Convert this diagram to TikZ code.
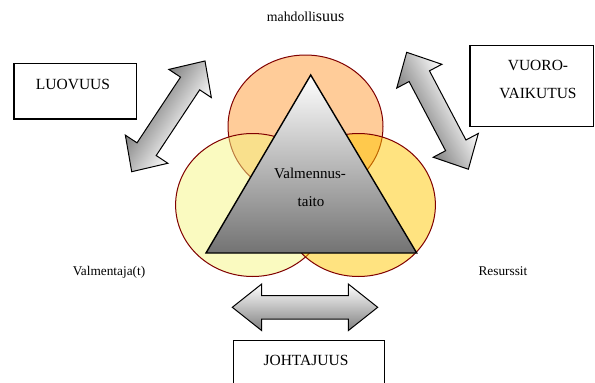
\documentclass[tikz,border=0pt]{standalone}
\usepackage{fontspec}
\setmainfont{Liberation Serif}
\definecolor{ringc}{HTML}{800000}
\definecolor{topc}{HTML}{FFCC99}
\definecolor{leftc}{HTML}{F5F581}
\definecolor{rightc}{HTML}{FFC701}
\newcommand\bigdbl[5]{\path[#1] (0,0) -- (#3,#4) -- (#3,#5) -- ({#2-#3},#5) -- ({#2-#3},#4) -- (#2,0) -- ({#2-#3},-#4) -- ({#2-#3},-#5) -- (#3,-#5) -- (#3,-#4) -- cycle;}
\tikzset{
  boxframe/.style={draw=black, line width=1.4pt, inner sep=0pt},
  lbl/.style={font=\fontsize{13.3}{16}\selectfont, anchor=base, inner sep=0pt},
  boxtxt/.style={font=\fontsize{15.5}{18}\selectfont, anchor=base, inner sep=0pt},
  ring/.style={draw=ringc, line width=1pt},
  bigarrow/.style={draw=black, line width=1pt, line join=miter},
}
\begin{document}
\begin{tikzpicture}[x=1pt,y=-1pt]
\useasboundingbox (0,0) rectangle (595,383);
% circles
\draw[ring, fill=topc] (305.5,126.5) ellipse [x radius=77.5pt, y radius=71.5pt];
\draw[ring, fill=leftc, fill opacity=0.5] (252.6,205) ellipse [x radius=77pt, y radius=71.5pt];
\draw[ring, fill=rightc, fill opacity=0.5] (358.4,205) ellipse [x radius=77pt, y radius=71.5pt];
% triangle
\coordinate (apex) at (310.7,75);
\coordinate (bl) at (206,253);
\coordinate (br) at (416.7,253);
\path[draw=black, line width=1.4pt, line join=miter, top color=white, bottom color=black!55] (apex) -- (br) -- (bl) -- cycle;
\node[boxtxt, font=\fontsize{15}{18}\selectfont] (val1) at (310,178.3) {Valmennus-};
\node[boxtxt, font=\fontsize{15}{18}\selectfont] (val2) at (311,206.7) {taito};
% labels
\node[lbl, anchor=base west] (mah) at (266.7,21) {\fontsize{13.8}{16}\selectfont mahdolli\fontsize{16}{18}\selectfont suus};
\node[lbl] (vmj) at (109,275) {Valmentaja(t)};
\node[lbl] (res) at (503,275) {Resurssit};
% arrows
\begin{scope}[transform canvas={shift={(131.7,171.7)}, rotate=56.5}]
\bigdbl{bigarrow, top color=black!50, bottom color=white}{132.8}{27}{25.5}{11.5}
\end{scope}
\begin{scope}[transform canvas={shift={(406.7,52.3)}, rotate=-62.2}]
\bigdbl{bigarrow, top color=white, bottom color=black!50}{132.2}{27}{25.5}{11.5}
\end{scope}
\begin{scope}[transform canvas={shift={(232.3,307.3)}}]
\bigdbl{bigarrow, top color=white, bottom color=black!50}{145.4}{29.4}{23.3}{11.7}
\end{scope}
% boxes
\node[boxframe, anchor=north west, minimum width=122.4pt, minimum height=55.6pt] (luo) at (13.3,62.7) {};
\node[boxtxt] (luot) at (73,89.3) {LUOVUUS};
\node[boxframe, anchor=north west, minimum width=123.4pt, minimum height=80.7pt] (vuo) at (469.3,45) {};
\node[boxtxt] (vuot1) at (538,70.8) {VUORO-};
\node[boxtxt] (vuot2) at (538,98) {VAIKUTUS};
\node[boxframe, anchor=north west, minimum width=151.3pt, minimum height=60pt] (joh) at (232.7,340) {};
\node[boxtxt] (joht) at (306,365.7) {JOHTAJUUS};
\end{tikzpicture}
\end{document}
